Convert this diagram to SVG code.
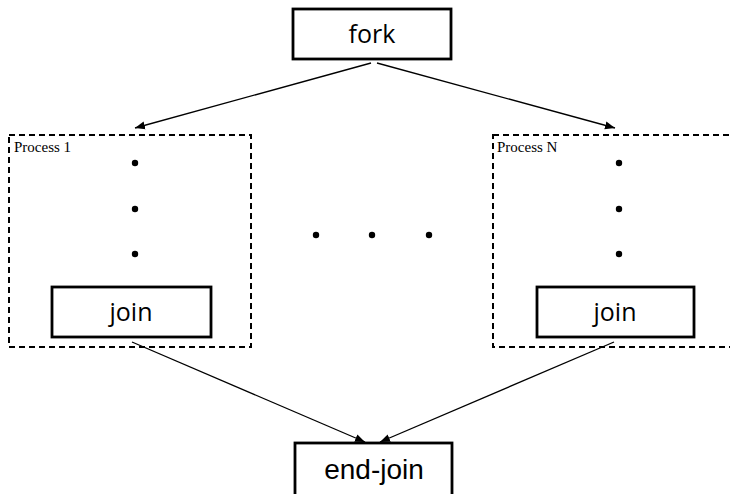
<svg xmlns="http://www.w3.org/2000/svg" width="730" height="494" viewBox="0 0 730 494">
<defs>
<marker id="arr" viewBox="0 0 10 10" refX="10" refY="5" markerWidth="10" markerHeight="10" markerUnits="userSpaceOnUse" orient="auto">
<path d="M0,1 L10,5 L0,9 Z" fill="#000"/>
</marker>
<style>
.box{fill:#fff;stroke:#000;stroke-width:2.8}
.proc{fill:none;stroke:#000;stroke-width:2;stroke-dasharray:6,4}
.lbl{font-family:"Open Sans","Liberation Sans",sans-serif;font-size:25px;text-anchor:middle;fill:#000}
.lbl2{font-family:"Liberation Sans",Arial,sans-serif;font-size:28px;text-anchor:middle;fill:#000}
.ptxt{font-family:"Liberation Serif","Times New Roman",serif;font-size:15px;fill:#000}
.conn{stroke:#000;stroke-width:1.3;fill:none;marker-end:url(#arr)}
</style>
</defs>
<rect width="730" height="494" fill="#fff"/>
<g id="process1">
<rect class="proc" x="9" y="135" width="242" height="212"/>
<text class="ptxt" x="14" y="152">Process 1</text>
<circle cx="135" cy="163" r="3.2"/>
<circle cx="135" cy="209" r="3.2"/>
<circle cx="135" cy="254" r="3.2"/>
</g>
<g id="processN">
<rect class="proc" x="493" y="135" width="250" height="212"/>
<text class="ptxt" x="497" y="152">Process N</text>
<circle cx="619" cy="163" r="3.2"/>
<circle cx="619" cy="209" r="3.2"/>
<circle cx="619" cy="254" r="3.2"/>
</g>
<g id="middots">
<circle cx="316" cy="235" r="3.2"/>
<circle cx="372" cy="235" r="3.2"/>
<circle cx="429" cy="235" r="3.2"/>
</g>
<g id="fork">
<rect class="box" x="293" y="9" width="158" height="50"/>
<text class="lbl" x="372" y="43">fork</text>
</g>
<g id="join1">
<rect class="box" x="52" y="287" width="159" height="50"/>
<text class="lbl" x="131" y="321">join</text>
</g>
<g id="joinN">
<rect class="box" x="537" y="287" width="157" height="50"/>
<text class="lbl" x="615" y="321">join</text>
</g>
<g id="endjoin">
<rect class="box" x="295" y="443" width="157" height="60"/>
<text class="lbl2" x="374" y="479">end-join</text>
</g>
<g id="connectors">
<line class="conn" x1="371" y1="63" x2="135" y2="128"/>
<line class="conn" x1="377" y1="63" x2="615" y2="128"/>
<line class="conn" x1="132" y1="342" x2="365" y2="442"/>
<line class="conn" x1="614" y1="342" x2="380" y2="442"/>
</g>
</svg>
